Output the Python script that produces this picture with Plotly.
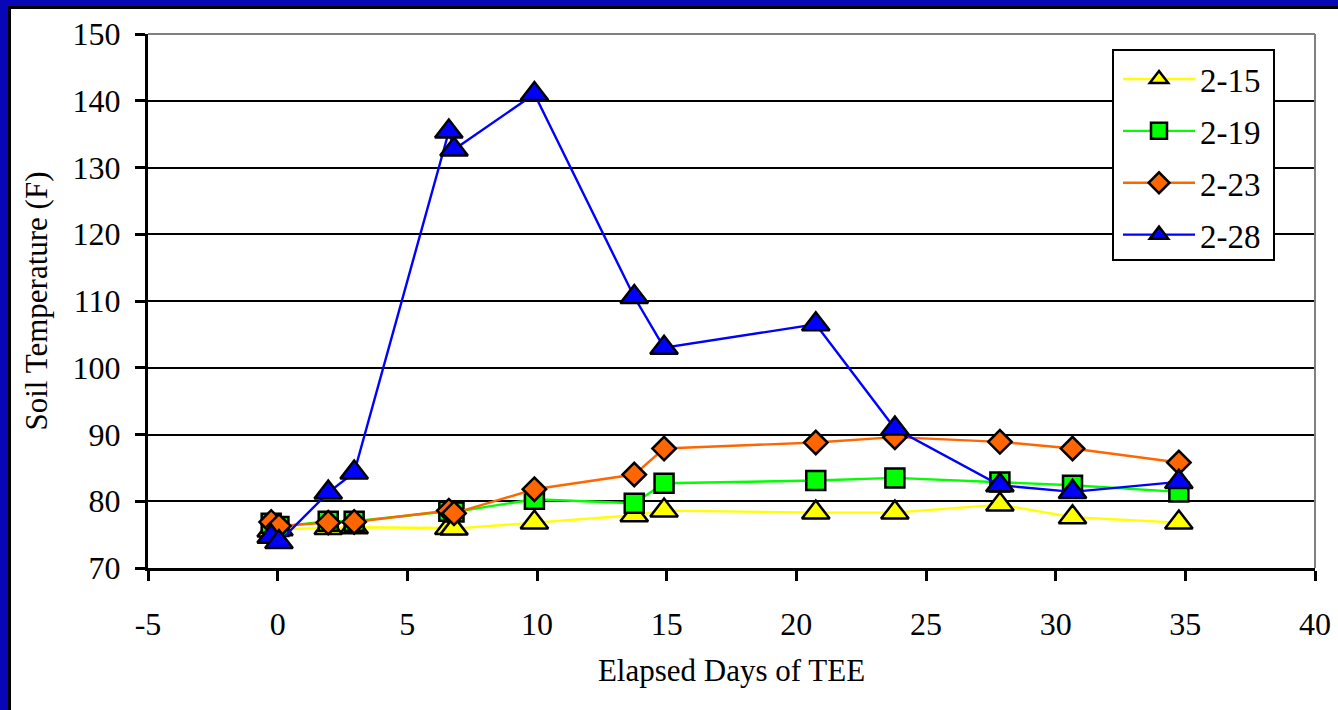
import plotly.graph_objects as go

# Elapsed days since the start of TEE (shared by all sampling series)
days = [-0.25, 0.05, 1.95, 2.95, 6.6, 6.8, 9.9, 13.75, 14.9, 20.75, 23.8, 27.85, 30.65, 34.75]

# Soil temperature (F) for each probe location
temp_2_15 = [75.6, 75.8, 76.0, 76.1, 76.0, 75.9, 76.8, 77.9, 78.6, 78.3, 78.3, 79.5, 77.6, 76.8]
temp_2_19 = [76.7, 76.2, 77.0, 77.0, 78.5, 78.4, 80.3, 79.7, 82.7, 83.1, 83.5, 82.9, 82.4, 81.4]
temp_2_23 = [76.9, 76.3, 76.8, 76.9, 78.6, 78.2, 81.8, 84.0, 87.9, 88.8, 89.6, 88.9, 87.9, 85.8]
temp_2_28 = [74.7, 73.9, 81.3, 84.3, 135.4, 132.7, 141.0, 110.6, 103.0, 106.5, 90.9, 82.4, 81.4, 82.9]

series_names = ["2-15", "2-19", "2-23", "2-28"]
series_values = [temp_2_15, temp_2_19, temp_2_23, temp_2_28]
series_colors = ["#ffff00", "#00ff00", "#ff6600", "#0000ff"]
series_symbols = ["triangle-up", "square", "diamond", "triangle-up"]
series_sizes = [24, 19, 18, 24]

x_ticks = [-5, 0, 5, 10, 15, 20, 25, 30, 35, 40]
y_ticks = [70, 80, 90, 100, 110, 120, 130, 140, 150]

W, H = 1338, 710
L, R, T, B = 148, 23, 34, 142
pw, ph = W - L - R, H - T - B


def px_x(p):
    return (p - L) / pw


def px_y(p):
    return (H - B - p) / ph


SERIF = "Liberation Serif"

fig = go.Figure()
for name, vals, col, sym, sz in zip(series_names, series_values, series_colors,
                                     series_symbols, series_sizes):
    fig.add_trace(go.Scatter(
        x=days, y=vals, name=name, legendgroup=name,
        mode="lines+markers",
        line=dict(color=col, width=2.4),
        marker=dict(symbol=sym, size=sz, color=col,
                    line=dict(color="black", width=2.5)),
    ))

shapes = [
    # white slide panel with dark edge on the blue background
    dict(type="rect", xref="paper", yref="paper", layer="below",
         x0=px_x(9.5), x1=px_x(1400), y0=px_y(800), y1=px_y(7.5),
         fillcolor="white", line=dict(color="black", width=3)),
    # grey frame on the top and right of the plotting area
    dict(type="line", xref="paper", yref="paper", x0=0, x1=1, y0=1, y1=1,
         line=dict(color="#808080", width=2)),
    dict(type="line", xref="paper", yref="paper", x0=1, x1=1, y0=0, y1=1,
         line=dict(color="#808080", width=2)),
    # legend box
    dict(type="rect", xref="paper", yref="paper", layer="above",
         x0=px_x(1113), x1=px_x(1274), y0=px_y(260), y1=px_y(50),
         fillcolor="white", line=dict(color="black", width=2)),
]

fig.update_layout(
    width=W, height=H,
    margin=dict(l=L, r=R, t=T, b=B, autoexpand=False),
    paper_bgcolor="#0707b8",
    plot_bgcolor="#c0c0c0",
    font=dict(family=SERIF, color="black", size=32),
    shapes=shapes,
    showlegend=True,
    legend=dict(
        x=px_x(1118), y=px_y(51), xanchor="left", yanchor="top",
        bgcolor="rgba(0,0,0,0)", borderwidth=0,
        font=dict(family=SERIF, size=33, color="black"),
        tracegroupgap=6, itemwidth=72,
    ),
    xaxis=dict(
        range=[-5, 40], tickmode="array", tickvals=x_ticks,
        ticktext=[str(v) for v in x_ticks],
        showgrid=False, zeroline=False,
        showline=True, linecolor="black", linewidth=3,
        ticks="outside", ticklen=10, tickwidth=2.5, tickcolor="black",
        ticklabelstandoff=16,
        tickfont=dict(family=SERIF, size=32),
        title=dict(text="Elapsed Days of TEE", font=dict(family=SERIF, size=31),
                   standoff=18),
    ),
    yaxis=dict(
        range=[70, 150], tickmode="array", tickvals=y_ticks,
        ticktext=[str(v) for v in y_ticks],
        showgrid=True, gridcolor="black", gridwidth=2,
        zeroline=False,
        showline=True, linecolor="black", linewidth=3,
        ticks="outside", ticklen=10, tickwidth=2.5, tickcolor="black",
        ticklabelstandoff=8,
        tickfont=dict(family=SERIF, size=32),
        title=dict(text="Soil Temperature (F)", font=dict(family=SERIF, size=31),
                   standoff=16),
    ),
)

fig.write_html("out.html")
